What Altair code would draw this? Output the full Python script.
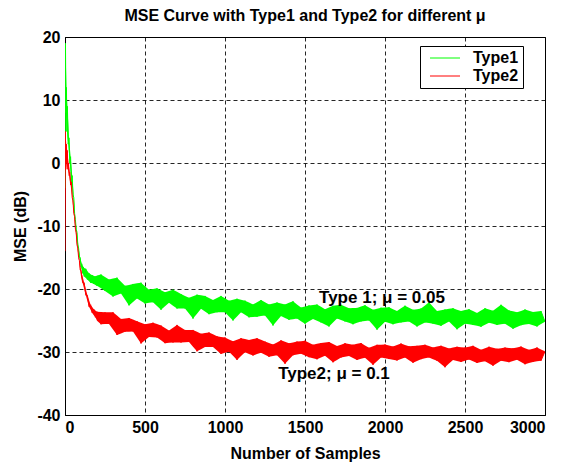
import altair as alt
import pandas as pd

# ---- data ----
green_x_early = [0, 3, 6, 9, 12, 15, 20, 25, 30, 35, 40, 45, 50, 55, 60, 65, 70, 75, 80, 85,
                 90, 95, 100, 105, 110, 115, 120, 130, 140, 150, 160, 170, 180, 190, 200]
green_y_early = [-4, 19, 8, 12, 5, 9, 3, 4, 0, 1, -3, -2, -5, -5.5, -8, -9, -10.5, -11, -13, -13.5,
                 -15, -15, -16.5, -16, -17.5, -16.5, -18, -16.8, -18.5, -17.5, -19, -17.8, -19.2, -18, -19.5]
red_x_early = [0, 2, 5, 8, 11, 14, 18, 22, 26, 30, 35, 40, 45, 50, 55, 60, 65, 70, 75, 80,
               85, 90, 95, 100, 110, 120, 130, 140, 150, 160, 170, 180, 190, 200]
red_y_early = [-14, 5, -1, 3, 0, 2, -1, 0, -2, -1.5, -3.5, -3, -5.5, -6, -8, -8.5, -10.5, -11, -13, -13.5,
               -15, -15.5, -17, -17, -19, -19, -21, -21, -22.8, -22.5, -23.8, -23.2, -24.5, -23.6]

main_x = list(range(225, 3001, 25))

green_y_main = [
    -17.7, -20.3, -18.5, -21.2, -18.2, -20.7, -19.5, -22.6,
    -19.2, -21.5, -19.0, -22.3, -20.1, -22.1, -19.9, -23.3,
    -20.5, -22.2, -20.1, -23.1, -20.8, -23.1, -21.4, -24.7,
    -20.9, -23.15, -21.1, -24.0, -21.75, -23.7, -21.1, -23.7,
    -21.85, -25.0, -21.55, -23.7, -21.85, -24.5, -22.45, -24.4,
    -21.75, -24.2, -22.45, -25.8, -22.15, -24.3, -22.45, -24.9,
    -21.95, -24.7, -22.95, -25.5, -22.6, -24.75, -22.47, -25.3,
    -23.2, -25.95, -22.67, -24.7, -22.5, -25.15, -23.05, -25.6,
    -23.0, -25.15, -22.57, -25.0, -23.3, -26.45, -22.97, -25.2,
    -22.9, -25.6, -23.5, -25.3, -22.65, -25.15, -23.3, -25.95,
    -23.1, -25.3, -22.1, -25.5, -23.5, -25.85, -23.25, -25.15,
    -23.05, -26.4, -23.5, -25.5, -23.2, -25.7, -23.8, -26.0,
    -23.05, -25.35, -23.45, -25.7, -22.5, -25.5, -23.4, -26.3,
    -23.7, -25.75, -23.25, -25.55, -23.65, -25.95, -23.5, -25.2,
]
red_y_main = [
    -25.6, -23.7, -25.55, -23.7, -27.3, -24.75, -26.8, -24.6,
    -26.75, -25.1, -28.65, -25.6, -27.6, -25.35, -27.7, -25.8,
    -28.6, -26.6, -28.5, -25.7, -28.5, -26.5, -28.4, -26.5,
    -29.9, -27.1, -29.2, -26.9, -29.2, -27.5, -30.3, -27.7,
    -29.95, -28.3, -31.25, -27.8, -30.05, -28.1, -30.55, -27.8,
    -30.12, -28.35, -30.77, -28.8, -30.52, -28.15, -31.87, -28.6,
    -30.52, -28.35, -30.27, -28.2, -30.82, -28.84, -31.16, -28.58,
    -30.6, -28.42, -31.64, -29.06, -30.88, -28.6, -30.62, -28.84,
    -31.26, -28.58, -30.9, -29.32, -32.04, -28.86, -30.88, -28.8,
    -31.12, -29.13, -31.35, -28.66, -30.88, -29.09, -31.71, -29.02,
    -31.14, -28.85, -30.87, -29.28, -31.4, -29.01, -32.43, -29.44,
    -31.26, -29.17, -31.59, -29.3, -31.21, -29.02, -31.73, -29.64,
    -31.45, -29.16, -32.17, -29.48, -31.39, -29.3, -31.61, -29.42,
    -31.23, -29.14, -31.95, -29.66, -31.57, -29.28, -31.39, -29.9,
]

series_names = ["Type1", "Type2"]
series_colors = ["#00ff00", "#ff0000"]

ann_text = ["Type 1; \u03bc = 0.05", "Type2; \u03bc = 0.1"]
ann_x = [1981, 1681]
ann_y = [-21.35, -33.5]

x_ticks = [0, 500, 1000, 1500, 2000, 2500, 3000]
y_ticks = [-40, -30, -20, -10, 0, 10, 20]

# ---- tables ----
gx = green_x_early + main_x
gy = green_y_early + green_y_main
rx = red_x_early + main_x
ry = red_y_early + red_y_main
df = pd.DataFrame({
    "n": gx + rx,
    "mse": gy + ry,
    "series": [series_names[0]] * len(gx) + [series_names[1]] * len(rx),
})
# envelope of the noisy trace: each point spans from its value to the midpoint of its neighbours
parts = []
for name, g in df.groupby("series", sort=False):
    g = g.sort_values("n").copy()
    mid = ((g["mse"].shift(1) + g["mse"].shift(-1)) / 2).fillna(g["mse"])
    g["lo"] = pd.concat([g["mse"], mid], axis=1).min(axis=1)
    g["hi"] = pd.concat([g["mse"], mid], axis=1).max(axis=1)
    parts.append(g)
df = pd.concat(parts, ignore_index=True)

ann = pd.DataFrame({"x": ann_x, "y": ann_y, "t": ann_text})

FONT = "Liberation Sans"
FS = 16

xs = alt.Scale(domain=[0, 3000], nice=False, zero=False)
ys = alt.Scale(domain=[-40, 20], nice=False, zero=False)

base = alt.Chart(df)


def band_for(name, colour):
    return base.transform_filter(alt.datum.series == name).mark_area(
        color=colour, opacity=1, clip=True
    ).encode(
        x=alt.X("n:Q", scale=xs),
        y=alt.Y("lo:Q", scale=ys),
        y2="hi:Q",
    )


bands = [band_for(n, c) for n, c in zip(series_names, series_colors)]

lines = base.mark_line(strokeWidth=1, clip=True).encode(
    x=alt.X("n:Q", scale=xs, title="Number of Samples",
            axis=alt.Axis(values=x_ticks, labelExpr="'' + datum.value")),
    y=alt.Y("mse:Q", scale=ys, title="MSE (dB)",
            axis=alt.Axis(values=y_ticks, labelExpr="'' + datum.value")),
    color=alt.Color("series:N", scale=alt.Scale(domain=series_names, range=series_colors),
                    legend=alt.Legend(orient="none", legendX=355, legendY=9, title=None,
                                      strokeColor="black", fillColor="white", padding=4,
                                      symbolType="M-2,0L2,0", symbolSize=225, symbolStrokeWidth=1,
                                      symbolOffset=13, labelOffset=20,
                                      labelExpr="datum.label + '\u00a0\u00a0\u00a0\u00a0\u00a0\u00a0'",
                                      labelFontSize=FS, labelFont=FONT, labelFontWeight="bold",
                                      rowPadding=2)),
    order=alt.Order("n:Q"),
)

texts = alt.Chart(ann).mark_text(font=FONT, fontSize=17, fontWeight="bold", color="black").encode(
    x=alt.X("x:Q", scale=xs),
    y=alt.Y("y:Q", scale=ys),
    text="t:N",
)

chart = alt.layer(*bands, lines, texts).properties(
    width=480, height=378,
    title=alt.TitleParams("MSE Curve with Type1 and Type2 for different \u03bc",
                          font=FONT, fontSize=FS, fontWeight="bold", color="black", offset=5),
    autosize=alt.AutoSizeParams(type="none"),
    padding={"left": 65, "top": 37, "right": 19, "bottom": 47},
    background="white",
).configure_view(
    stroke="black", strokeWidth=1
).configure_axis(
    grid=True, gridColor="black", gridDash=[4, 3], gridOpacity=0.85, gridWidth=1,
    domainColor="black", domainWidth=1, ticks=False,
    labelFont=FONT, labelFontSize=FS, labelFontWeight="bold", labelColor="black",
    titleFont=FONT, titleFontSize=FS, titleFontWeight="bold", titleColor="black",
    labelPadding=4,
).configure_axisX(titlePadding=10).configure_axisY(titlePadding=8, labelPadding=5)

chart.save("out.html", embed_options={"renderer": "svg", "actions": False})
